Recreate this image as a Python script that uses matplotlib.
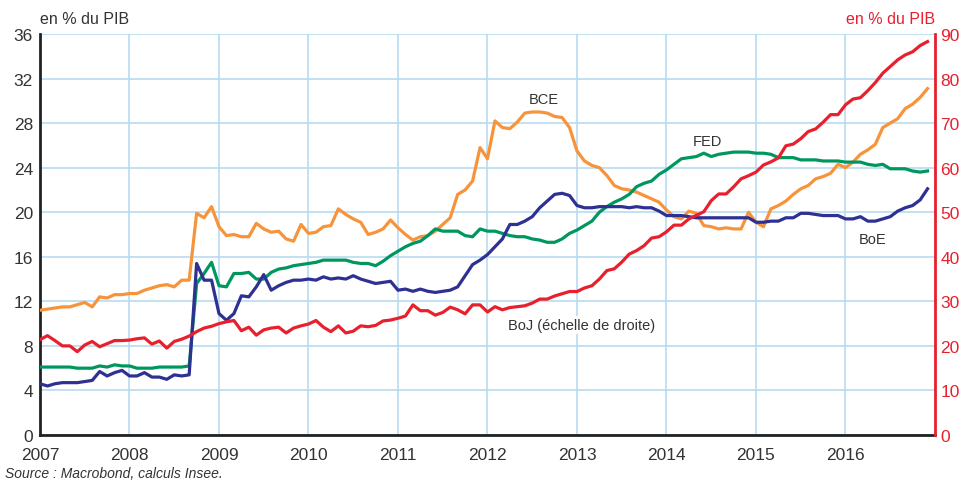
import numpy as np
import pandas as pd
import matplotlib.pyplot as plt

plt.rcParams['font.family'] = ['Liberation Sans Narrow', 'Liberation Sans', 'DejaVu Sans']

# Monthly data, Jan 2007 - Dec 2016 (balance sheet, % of GDP)
dates = pd.date_range('2007-01-01', periods=120, freq='MS')
years = dates.year + (dates.month - 1) / 12

bce = [11.2, 11.3, 11.4, 11.5, 11.5, 11.7, 11.9, 11.5, 12.4, 12.3, 12.6, 12.6,
       12.7, 12.7, 13.0, 13.2, 13.4, 13.5, 13.3, 13.9, 13.9, 19.9, 19.5, 20.5,
       18.7, 17.9, 18.0, 17.8, 17.8, 19.0, 18.5, 18.2, 18.3, 17.6, 17.4, 18.9,
       18.1, 18.2, 18.7, 18.8, 20.3, 19.8, 19.4, 19.1, 18.0, 18.2, 18.5, 19.3,
       18.6, 18.0, 17.5, 17.8, 17.9, 18.3, 18.9, 19.5, 21.6, 22.0, 22.8, 25.8,
       24.8, 28.2, 27.6, 27.5, 28.1, 28.9, 29.0, 29.0, 28.9, 28.6, 28.5, 27.6,
       25.5, 24.6, 24.2, 24.0, 23.3, 22.4, 22.1, 22.0, 21.8, 21.5, 21.2, 20.9,
       20.2, 19.6, 19.4, 20.1, 19.9, 18.8, 18.7, 18.5, 18.6, 18.5, 18.5, 20.0,
       19.1, 18.7, 20.3, 20.6, 21.0, 21.6, 22.1, 22.4, 23.0, 23.2, 23.5, 24.3,
       24.0, 24.5, 25.2, 25.6, 26.1, 27.6, 28.0, 28.4, 29.3, 29.7, 30.3, 31.1]

fed = [6.1, 6.1, 6.1, 6.1, 6.1, 6.0, 6.0, 6.0, 6.2, 6.1, 6.3, 6.2,
       6.2, 6.0, 6.0, 6.0, 6.1, 6.1, 6.1, 6.1, 6.2, 13.6, 14.5, 15.5,
       13.4, 13.3, 14.5, 14.5, 14.6, 14.0, 14.0, 14.6, 14.9, 15.0, 15.2, 15.3,
       15.4, 15.5, 15.7, 15.7, 15.7, 15.7, 15.5, 15.4, 15.4, 15.2, 15.6, 16.1,
       16.5, 16.9, 17.2, 17.4, 17.9, 18.5, 18.3, 18.3, 18.3, 17.9, 17.8, 18.5,
       18.3, 18.3, 18.1, 17.9, 17.8, 17.8, 17.6, 17.5, 17.3, 17.3, 17.6, 18.1,
       18.4, 18.8, 19.2, 20.0, 20.5, 20.9, 21.2, 21.6, 22.3, 22.6, 22.8, 23.4,
       23.8, 24.3, 24.8, 24.9, 25.0, 25.3, 25.0, 25.2, 25.3, 25.4, 25.4, 25.4,
       25.3, 25.3, 25.2, 24.9, 24.9, 24.9, 24.7, 24.7, 24.7, 24.6, 24.6, 24.6,
       24.5, 24.5, 24.5, 24.3, 24.2, 24.3, 23.9, 23.9, 23.9, 23.7, 23.6, 23.7]

boe = [4.6, 4.4, 4.6, 4.7, 4.7, 4.7, 4.8, 4.9, 5.7, 5.3, 5.6, 5.8,
       5.3, 5.3, 5.6, 5.2, 5.2, 5.0, 5.4, 5.3, 5.4, 15.4, 13.9, 13.9,
       10.9, 10.3, 10.9, 12.5, 12.4, 13.3, 14.4, 13.0, 13.4, 13.7, 13.9, 13.9,
       14.0, 13.9, 14.2, 14.0, 14.1, 14.0, 14.3, 14.0, 13.8, 13.6, 13.7, 13.8,
       13.0, 13.1, 12.9, 13.1, 12.9, 12.8, 12.9, 13.0, 13.3, 14.3, 15.3, 15.7,
       16.2, 16.9, 17.6, 18.9, 18.9, 19.2, 19.6, 20.4, 21.0, 21.6, 21.7, 21.5,
       20.6, 20.4, 20.4, 20.5, 20.5, 20.5, 20.5, 20.4, 20.5, 20.4, 20.4, 20.1,
       19.7, 19.7, 19.7, 19.6, 19.5, 19.5, 19.5, 19.5, 19.5, 19.5, 19.5, 19.5,
       19.1, 19.1, 19.2, 19.2, 19.5, 19.5, 19.9, 19.9, 19.8, 19.7, 19.7, 19.7,
       19.4, 19.4, 19.6, 19.2, 19.2, 19.4, 19.6, 20.1, 20.4, 20.6, 21.1, 22.1]

# BoJ on the right-hand scale
boj = [21.4, 22.3, 21.2, 20.0, 20.0, 18.7, 20.2, 21.0, 19.8, 20.5, 21.2, 21.2,
       21.3, 21.6, 21.8, 20.4, 21.1, 19.5, 21.0, 21.5, 22.2, 23.2, 24.0, 24.4,
       25.0, 25.4, 25.7, 23.4, 24.2, 22.4, 23.6, 24.0, 24.2, 22.9, 24.0, 24.5,
       24.9, 25.7, 24.2, 23.2, 24.5, 22.9, 23.3, 24.5, 24.3, 24.6, 25.6, 25.8,
       26.2, 26.7, 29.2, 27.9, 27.9, 26.9, 27.5, 28.7, 28.1, 27.2, 29.2, 29.2,
       27.6, 28.8, 28.1, 28.6, 28.8, 29.0, 29.6, 30.5, 30.5, 31.2, 31.7, 32.2,
       32.2, 33.0, 33.5, 35.0, 36.9, 37.3, 38.8, 40.6, 41.4, 42.5, 44.2, 44.5,
       45.6, 47.1, 47.1, 48.5, 49.3, 50.1, 52.6, 54.1, 54.1, 55.7, 57.5, 58.2,
       59.0, 60.6, 61.3, 62.2, 64.9, 65.3, 66.5, 68.1, 68.7, 70.2, 71.9, 71.9,
       74.1, 75.4, 75.7, 77.3, 79.1, 81.2, 82.7, 84.2, 85.3, 86.0, 87.4, 88.3]

c_bce = '#f7943b'
c_fed = '#00975f'
c_boe = '#2e3092'
c_boj = '#e8202e'
c_grid = '#b9dcf2'
c_text = '#333333'

fig = plt.figure(figsize=(9.65, 4.81), dpi=100)
ax = fig.add_axes([40 / 965, 1 - 436 / 481, 895 / 965, 401 / 481])
ax2 = ax.twinx()

ax.plot(years, bce, color=c_bce, lw=2.3, zorder=3)
ax.plot(years, fed, color=c_fed, lw=2.3, zorder=3)
ax.plot(years, boe, color=c_boe, lw=2.3, zorder=4)
ax2.plot(years, boj, color=c_boj, lw=2.3, zorder=3)

ax.set_xlim(2007, 2017)
ax.set_ylim(0, 36)
ax2.set_ylim(0, 90)
ax.set_xticks(range(2007, 2017))
ax.set_yticks(range(0, 37, 4))
ax2.set_yticks(range(0, 91, 10))

ax.grid(True, color=c_grid, lw=1.2)
ax.set_axisbelow(True)
ax.tick_params(axis='y', length=0, labelsize=12.5, labelcolor=c_text, pad=5)
ax.tick_params(axis='x', length=0, labelsize=12.5, labelcolor=c_text, pad=9)
ax2.tick_params(axis='y', length=0, labelsize=12.5, labelcolor=c_boj, pad=4)

for a in (ax, ax2):
    a.spines['top'].set_visible(False)
ax.spines['left'].set_color('#222222')
ax.spines['left'].set_linewidth(2)
ax.spines['bottom'].set_color('#222222')
ax.spines['bottom'].set_linewidth(2)
ax2.spines['left'].set_visible(False)
ax2.spines['bottom'].set_visible(False)
ax2.spines['right'].set_color(c_boj)
ax2.spines['right'].set_linewidth(2)

# series labels
ax.text(2012.63, 30.2, 'BCE', fontsize=10.5, color=c_text, ha='center', va='center')
ax.text(2014.46, 26.4, 'FED', fontsize=10.5, color=c_text, ha='center', va='center')
ax.text(2016.3, 17.6, 'BoE', fontsize=10.5, color=c_text, ha='center', va='center')
ax.text(2012.23, 9.9, 'BoJ (échelle de droite)', fontsize=10.5, color=c_text,
        ha='left', va='center', zorder=5,
        bbox=dict(facecolor='white', edgecolor='none', pad=1.5))

fig.text(40 / 965, 1 - 20 / 481, 'en % du PIB', fontsize=11.5, color=c_text, ha='left', va='center')
fig.text(935 / 965, 1 - 20 / 481, 'en % du PIB', fontsize=11.5, color=c_boj, ha='right', va='center')
fig.text(5 / 965, 1 - 474 / 481, 'Source : Macrobond, calculs Insee.', fontsize=10,
         color=c_text, style='italic', ha='left', va='center')

plt.savefig('out.png', dpi=100)
